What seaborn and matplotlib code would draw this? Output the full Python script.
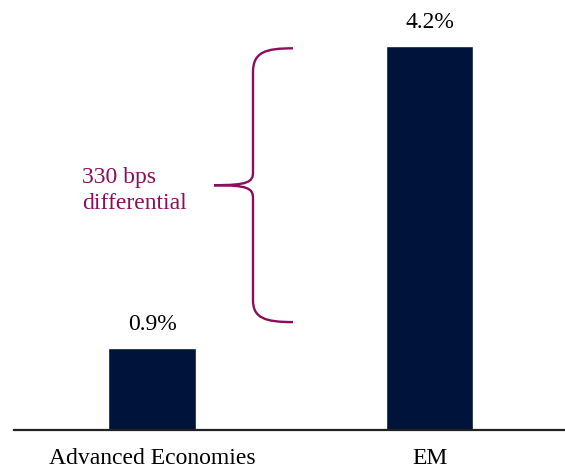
import matplotlib
matplotlib.use("Agg")
import matplotlib.pyplot as plt
from matplotlib.path import Path
from matplotlib.patches import PathPatch
import seaborn as sns
import pandas as pd

categories = ["Advanced Economies", "EM"]
values = [0.9, 4.2]
value_labels = ["0.9%", "4.2%"]
annotation_text = "330 bps\ndifferential"

BAR = "#00133A"
MAROON = "#8B0D5B"
FS = 17

sns.set_theme(style="white")
plt.rcParams["font.family"] = ["Liberation Serif", "DejaVu Serif"]

W, H = 565, 469
fig = plt.figure(figsize=(W / 100, H / 100), dpi=100)
ax = fig.add_axes([14 / W, 1 - 430 / H, (W - 14) / W, 430 / H])

df = pd.DataFrame({"cat": categories, "val": values})
sns.barplot(data=df, x="cat", y="val", color=BAR, saturation=1, width=0.317, ax=ax)

spacing = 277.5
ax.set_xlim(-(152 - 14) / spacing, 1 + (565 - 429.5) / spacing)
ax.set_ylim(0, 4.2 * 430 / 384)

for c, lab in zip(ax.containers, [value_labels]):
    ax.bar_label(c, labels=lab, padding=9, fontsize=FS, color="black")

ax.set_xlabel("")
ax.set_ylabel("")
ax.set_yticks([])
ax.tick_params(axis="x", length=0, pad=13, labelsize=FS, colors="black")
for s in ["top", "left", "right"]:
    ax.spines[s].set_visible(False)
ax.spines["bottom"].set_color("#222222")
ax.spines["bottom"].set_linewidth(1.6)

# bracket (pixel layout converted to data units)
def d(px, py):
    return ((px - 152) / spacing, (430 - py) / 91.5)

verts = [d(293, 48), d(265, 48), d(253, 52), d(253, 72),
         d(253, 172),
         d(253, 182), d(248, 185), d(214, 185),
         d(248, 185), d(253, 188), d(253, 198),
         d(253, 300),
         d(253, 318), d(265, 322), d(293, 322)]
codes = [Path.MOVETO, Path.CURVE4, Path.CURVE4, Path.CURVE4,
         Path.LINETO,
         Path.CURVE4, Path.CURVE4, Path.CURVE4,
         Path.CURVE4, Path.CURVE4, Path.CURVE4,
         Path.LINETO,
         Path.CURVE4, Path.CURVE4, Path.CURVE4]
ax.add_patch(PathPatch(Path(verts, codes), fill=False, edgecolor=MAROON, linewidth=1.7))

x0, y0 = d(82, 190)
ax.text(x0, y0, annotation_text, color=MAROON, fontsize=FS, ha="left", va="center",
        linespacing=1.3)

fig.savefig("out.png", dpi=100)
